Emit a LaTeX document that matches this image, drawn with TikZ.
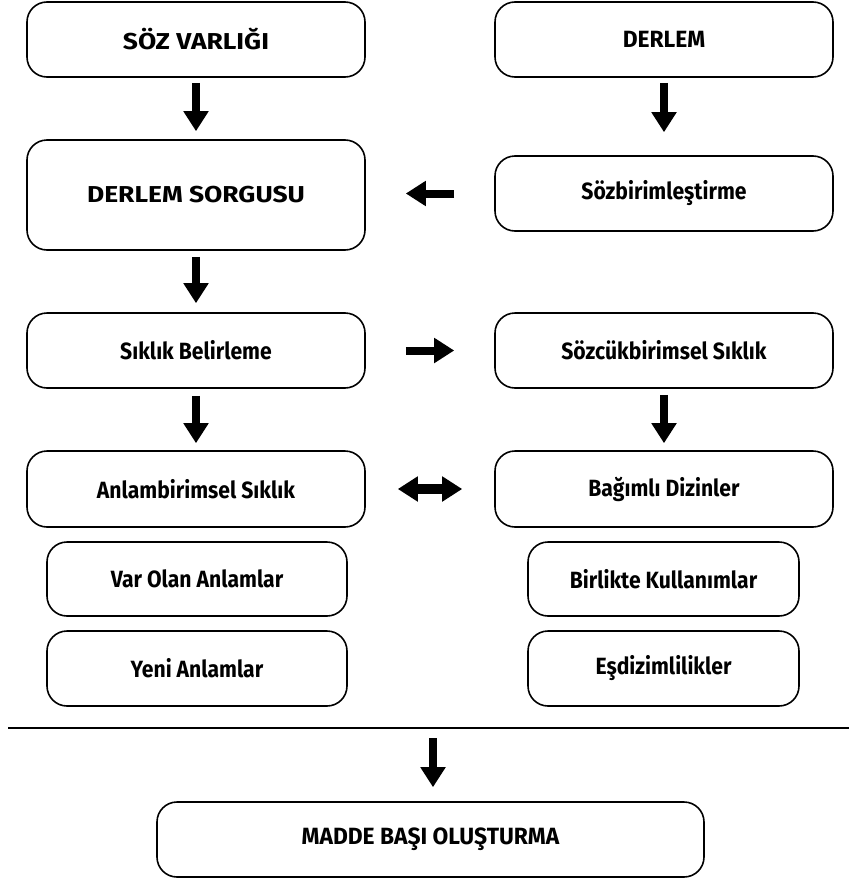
\documentclass[tikz,border=0pt]{standalone}
\usepackage{fontspec}
\setmainfont{Fira Sans}
\newfontfamily\lowf{Fira Sans}[FakeStretch=0.9]
\newfontfamily\capf{Fira Sans}[FakeStretch=0.97]
\newfontfamily\titf{Fira Sans}[FakeStretch=1.15]
\usetikzlibrary{arrows.meta}
\tikzset{
  box/.style={draw, line width=1.6pt, rounded corners=20pt, align=center, font=\lowf\bfseries\fontsize{23.5}{26}\selectfont},
  capbox/.style={box, font=\capf\bfseries\fontsize{23.5}{26}\selectfont},
  bigbox/.style={box, font=\titf\bfseries\fontsize{23}{26}\selectfont},
  blk/.style={line width=8pt, -{Triangle[width=24pt,length=20pt]}},
  dbl/.style={line width=10pt, {Triangle[width=24pt,length=20pt]}-{Triangle[width=24pt,length=20pt]}},
}
\begin{document}
\begin{tikzpicture}[x=1pt,y=-1pt]
\useasboundingbox (0,0) rectangle (849,878);
% left column
\node[bigbox, minimum width=338pt, minimum height=75pt] (soz) at (196,39.5) {SÖZ VARLIĞI};
\node[bigbox, minimum width=338pt, minimum height=110pt] (sorgu) at (196,195) {DERLEM SORGUSU};
\node[box, minimum width=338pt, minimum height=75pt] (sik) at (196,350.5) {Sıklık Belirleme};
\node[box, minimum width=338pt, minimum height=76pt] (anlam) at (196,489) {Anlambirimsel Sıklık};
\node[box, minimum width=300pt, minimum height=74pt] (var) at (197,579) {Var Olan Anlamlar};
\node[box, minimum width=300pt, minimum height=75pt] (yeni) at (197,668.5) {Yeni Anlamlar};
% right column
\node[capbox, minimum width=338pt, minimum height=75pt] (derlem) at (664,39.5) {DERLEM};
\node[box, minimum width=338pt, minimum height=75pt] (sozbir) at (664,193.5) {Sözbirimleştirme};
\node[box, minimum width=338pt, minimum height=75pt] (sozcuk) at (664,350.5) {Sözcükbirimsel Sıklık};
\node[box, minimum width=338pt, minimum height=76pt] (bagimli) at (664,489) {Bağımlı Dizinler};
\node[box, minimum width=271pt, minimum height=74pt] (birlikte) at (663.5,579) {Birlikte Kullanımlar};
\node[box, minimum width=271pt, minimum height=75pt] (esdizim) at (663.5,668.5) {Eşdizimlilikler};
% bottom
\coordinate (lineL) at (8,728);
\coordinate (lineR) at (849,728);
\coordinate (lineC) at (433,728);
\draw[line width=1.5pt] (lineL) -- (lineR);
\node[capbox, minimum width=547pt, minimum height=75pt] (madde) at (430.5,839.5) {MADDE BAŞI OLUŞTURMA};
% arrows
\draw[blk, shorten <=5pt, shorten >=8pt] (soz.south) -- (sorgu.north);
\draw[blk, shorten <=6pt, shorten >=9pt] (sorgu.south) -- (sik.north);
\draw[blk, shorten <=7pt, shorten >=7pt] (sik.south) -- (anlam.north);
\draw[blk, shorten <=5pt, shorten >=23pt] (derlem.south) -- (sozbir.north);
\draw[blk, shorten <=6pt, shorten >=7pt] (sozcuk.south) -- (bagimli.north);
\draw[blk, shorten <=40pt, shorten >=40pt] (sozbir.west) -- (sozbir.west -| sorgu.east);
\draw[blk, shorten <=40pt, shorten >=40pt] (sik.east) -- (sozcuk.west);
\draw[dbl, shorten <=32pt, shorten >=32pt] (anlam.east) -- (bagimli.west);
\draw[blk, shorten <=10pt, shorten >=14pt] (lineC) -- (lineC |- madde.north);
\end{tikzpicture}
\end{document}
